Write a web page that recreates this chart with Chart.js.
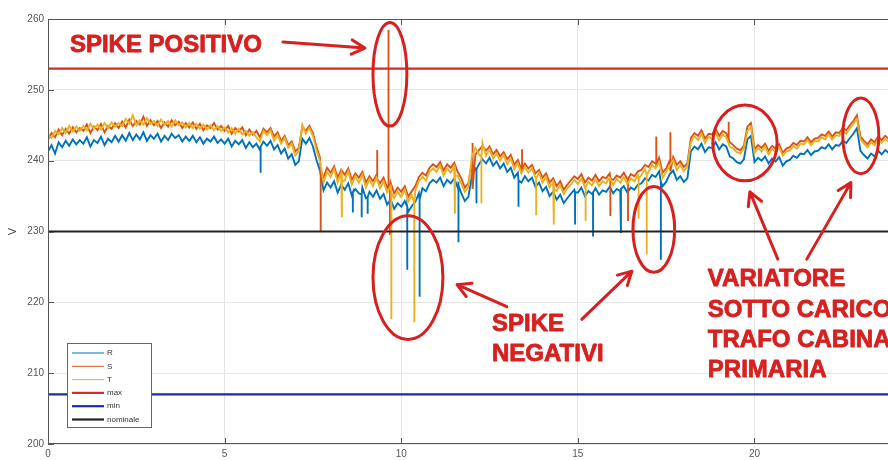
<!DOCTYPE html>
<html>
<head>
<meta charset="utf-8">
<script src="https://cdn.jsdelivr.net/npm/chart.js@4.4.0/dist/chart.umd.min.js"></script>
<style>
  html, body { margin: 0; padding: 0; background: #fff; }
  #wrap { width: 888px; height: 460px; position: relative; }
</style>
</head>
<body>
<div id="wrap"><canvas id="chart"></canvas></div>
<script>
// ore del giorno (passo 0.1 h)
const hours = [
  0.0, 0.1, 0.2, 0.3, 0.4, 0.5, 0.6, 0.7, 0.8, 0.9,
  1.0, 1.1, 1.2, 1.3, 1.4, 1.5, 1.6, 1.7, 1.8, 1.9,
  2.0, 2.1, 2.2, 2.3, 2.4, 2.5, 2.6, 2.7, 2.8, 2.9,
  3.0, 3.1, 3.2, 3.3, 3.4, 3.5, 3.6, 3.7, 3.8, 3.9,
  4.0, 4.1, 4.2, 4.3, 4.4, 4.5, 4.6, 4.7, 4.8, 4.9,
  5.0, 5.1, 5.2, 5.3, 5.4, 5.5, 5.6, 5.7, 5.8, 5.9,
  6.0, 6.1, 6.2, 6.3, 6.4, 6.5, 6.6, 6.7, 6.8, 6.9,
  7.0, 7.1, 7.2, 7.3, 7.4, 7.5, 7.6, 7.7, 7.8, 7.9,
  8.0, 8.1, 8.2, 8.3, 8.4, 8.5, 8.6, 8.7, 8.8, 8.9,
  9.0, 9.1, 9.2, 9.3, 9.4, 9.5, 9.6, 9.7, 9.8, 9.9,
  10.0, 10.1, 10.2, 10.3, 10.4, 10.5, 10.6, 10.7, 10.8, 10.9,
  11.0, 11.1, 11.2, 11.3, 11.4, 11.5, 11.6, 11.7, 11.8, 11.9,
  12.0, 12.1, 12.2, 12.3, 12.4, 12.5, 12.6, 12.7, 12.8, 12.9,
  13.0, 13.1, 13.2, 13.3, 13.4, 13.5, 13.6, 13.7, 13.8, 13.9,
  14.0, 14.1, 14.2, 14.3, 14.4, 14.5, 14.6, 14.7, 14.8, 14.9,
  15.0, 15.1, 15.2, 15.3, 15.4, 15.5, 15.6, 15.7, 15.8, 15.9,
  16.0, 16.1, 16.2, 16.3, 16.4, 16.5, 16.6, 16.7, 16.8, 16.9,
  17.0, 17.1, 17.2, 17.3, 17.4, 17.5, 17.6, 17.7, 17.8, 17.9,
  18.0, 18.1, 18.2, 18.3, 18.4, 18.5, 18.6, 18.7, 18.8, 18.9,
  19.0, 19.1, 19.2, 19.3, 19.4, 19.5, 19.6, 19.7, 19.8, 19.9,
  20.0, 20.1, 20.2, 20.3, 20.4, 20.5, 20.6, 20.7, 20.8, 20.9,
  21.0, 21.1, 21.2, 21.3, 21.4, 21.5, 21.6, 21.7, 21.8, 21.9,
  22.0, 22.1, 22.2, 22.3, 22.4, 22.5, 22.6, 22.7, 22.8, 22.9,
  23.0, 23.1, 23.2, 23.3, 23.4, 23.5, 23.6, 23.7, 23.8, 23.9
];

const voltR = [
  241.3, 242.2, 241.0, 242.6, 241.9, 242.8, 242.1, 243.0, 242.3, 242.9,
  242.4, 243.3, 242.0, 242.9, 242.5, 243.4, 242.2, 243.1, 242.6, 243.5,
  242.7, 243.6, 242.8, 243.9, 242.9, 243.7, 243.0, 244.0, 242.8, 243.6,
  243.1, 243.8, 242.7, 243.5, 242.9, 243.8, 243.2, 243.6, 242.7, 243.4,
  242.8, 243.5, 242.6, 243.3, 242.4, 243.1, 242.7, 243.4, 242.5, 243.0,
  242.4, 243.1, 242.0, 242.8, 242.3, 242.9, 241.8, 242.6, 241.9, 242.4,
  241.5, 242.7, 242.1, 242.8, 241.6, 242.2, 241.0, 241.7, 240.3, 240.9,
  239.4, 239.9, 243.1, 242.4, 243.2, 242.0, 240.1, 238.6, 235.8, 236.9,
  236.2, 237.1, 235.5, 236.6, 235.9, 236.8, 235.1, 236.0, 235.4, 236.2,
  234.7, 235.6, 234.9, 235.8, 234.6, 235.3, 233.8, 234.5, 233.2, 234.0,
  233.5, 234.3, 232.8, 233.6, 234.2, 235.4, 236.1, 235.7, 236.8, 237.3,
  236.9, 237.6, 236.4, 237.3, 236.8, 237.5, 236.2, 235.4, 234.3, 234.9,
  237.8, 238.9, 239.5, 240.2, 239.6, 240.4, 239.3, 239.9, 238.9, 239.6,
  238.4, 239.0, 237.6, 238.3, 236.9, 237.8, 237.1, 237.6, 236.3, 236.9,
  235.7, 236.3, 235.0, 235.6, 234.5, 235.2, 234.0, 234.7, 235.3, 235.9,
  235.5, 236.2, 235.0, 235.7, 235.3, 236.1, 235.2, 235.8, 235.6, 236.3,
  235.4, 236.0, 235.7, 236.4, 235.5, 236.2, 235.9, 236.6, 236.8, 237.5,
  237.2, 238.0, 237.7, 238.5, 236.4, 237.0, 238.1, 238.6, 237.3, 237.8,
  237.0, 237.5, 241.3, 242.0, 241.6, 242.4, 241.2, 241.9, 241.8, 242.6,
  241.6, 242.3, 242.0, 240.6, 240.3, 239.8, 239.6, 240.2, 243.0, 243.5,
  239.8, 240.4, 240.0, 240.6, 239.6, 240.3, 239.9, 240.5, 239.3, 239.9,
  240.1, 240.7, 240.4, 241.0, 240.9, 241.5, 240.8, 241.3, 241.4, 241.9,
  241.7, 242.3, 241.6, 242.2, 242.1, 242.8, 242.5, 243.2, 243.8, 244.6,
  241.4, 240.8, 240.3, 241.0, 240.6, 241.4, 240.9, 241.5, 241.1, 241.6
];

const voltS = [
  243.0, 243.9, 243.3, 244.4, 243.6, 244.5, 243.8, 244.7, 244.0, 244.6,
  244.2, 245.1, 243.9, 244.8, 244.3, 245.2, 244.0, 244.9, 244.5, 245.3,
  244.6, 245.5, 244.7, 245.8, 244.9, 245.6, 245.1, 246.2, 244.9, 245.7,
  245.0, 245.6, 244.6, 245.4, 244.8, 245.7, 245.0, 245.5, 244.6, 245.3,
  244.7, 245.4, 244.5, 245.2, 244.3, 245.0, 244.6, 245.3, 244.4, 244.9,
  244.2, 244.9, 243.8, 244.6, 244.1, 244.7, 243.6, 244.4, 243.7, 244.2,
  243.3, 244.5, 244.0, 244.6, 243.4, 244.0, 242.8, 243.5, 242.2, 242.7,
  241.3, 241.8, 244.8, 244.2, 244.9, 243.9, 242.0, 240.4, 237.6, 239.0,
  238.3, 239.2, 237.6, 238.7, 238.0, 238.9, 237.3, 238.2, 237.6, 238.4,
  236.9, 237.8, 237.1, 238.0, 236.8, 237.6, 236.2, 236.9, 235.4, 236.2,
  235.6, 236.4, 234.9, 235.7, 236.4, 237.7, 238.3, 237.9, 239.0, 239.5,
  239.1, 239.8, 238.6, 239.5, 239.0, 239.7, 238.4, 237.5, 236.2, 236.8,
  239.8, 240.9, 241.5, 242.1, 241.4, 242.0, 240.9, 241.5, 240.6, 241.2,
  240.2, 240.8, 239.4, 240.1, 238.8, 239.6, 238.9, 239.4, 238.2, 238.7,
  237.6, 238.2, 236.9, 237.5, 236.4, 237.1, 235.9, 236.6, 237.2, 237.8,
  237.4, 238.1, 236.9, 237.6, 237.2, 238.0, 237.1, 237.7, 237.5, 238.2,
  237.3, 237.9, 237.6, 238.3, 237.4, 238.1, 237.8, 238.5, 238.7, 239.4,
  239.1, 239.9, 239.6, 240.4, 238.3, 238.9, 240.0, 240.5, 239.4, 239.9,
  239.1, 239.6, 243.2, 243.9, 243.5, 244.3, 243.1, 243.8, 243.7, 244.5,
  243.5, 244.2, 243.9, 242.6, 242.2, 241.7, 241.5, 242.1, 244.8, 245.3,
  241.6, 242.2, 241.8, 242.4, 241.4, 242.1, 241.7, 242.3, 241.1, 241.7,
  241.9, 242.5, 242.2, 242.8, 242.7, 243.3, 242.6, 243.1, 243.2, 243.7,
  243.5, 244.1, 243.4, 244.0, 243.9, 244.6, 244.3, 245.0, 245.6, 246.4,
  243.4, 242.8, 242.3, 243.0, 242.6, 243.4, 242.9, 243.5, 243.1, 243.6
];

const voltT = [
  243.6, 243.2, 244.2, 243.7, 244.6, 243.9, 244.9, 244.1, 244.8, 244.2,
  244.9, 244.3, 245.2, 244.5, 245.1, 244.4, 245.3, 244.6, 245.4, 244.8,
  245.3, 244.9, 245.9, 245.2, 246.4, 245.0, 245.7, 245.1, 246.0, 245.2,
  245.6, 244.9, 245.8, 245.1, 245.6, 244.8, 245.7, 245.0, 245.4, 244.7,
  245.3, 244.6, 245.2, 244.5, 245.1, 244.4, 245.0, 244.3, 244.9, 244.2,
  244.7, 244.0, 244.6, 243.8, 244.5, 243.7, 244.2, 243.5, 244.0, 243.3,
  242.7, 244.2, 243.6, 244.3, 242.8, 243.6, 242.4, 243.2, 241.8, 242.4,
  240.7, 241.4, 245.1, 243.8, 244.6, 243.5, 241.5, 239.9, 236.9, 238.4,
  237.7, 238.8, 236.9, 238.3, 237.2, 238.5, 236.6, 237.8, 236.9, 238.0,
  236.2, 237.4, 236.4, 237.6, 236.1, 237.1, 235.5, 236.4, 234.7, 235.6,
  234.9, 235.9, 234.2, 235.1, 235.8, 237.1, 237.7, 237.2, 238.4, 238.9,
  238.4, 239.3, 237.9, 238.9, 238.3, 239.2, 237.8, 236.8, 235.6, 236.3,
  240.6, 241.8, 240.9, 242.5, 240.7, 241.6, 240.3, 241.0, 240.0, 240.8,
  239.5, 240.3, 238.8, 239.6, 238.2, 239.1, 238.3, 238.9, 237.6, 238.3,
  236.9, 237.7, 236.2, 237.0, 235.7, 236.5, 235.3, 236.1, 236.6, 237.3,
  236.7, 237.5, 236.2, 237.0, 236.5, 237.4, 236.4, 237.1, 236.8, 237.6,
  236.6, 237.4, 236.9, 237.7, 236.7, 237.5, 237.1, 238.0, 238.0, 238.8,
  238.4, 239.4, 238.9, 239.8, 237.6, 238.4, 239.3, 240.1, 238.7, 239.4,
  238.5, 239.2, 242.6, 243.5, 242.9, 243.8, 242.5, 243.4, 243.1, 244.0,
  242.9, 243.7, 243.3, 242.0, 241.7, 241.2, 241.0, 241.7, 244.2, 244.8,
  241.1, 241.8, 241.3, 242.0, 240.9, 241.7, 241.2, 241.9, 240.7, 241.3,
  241.4, 242.1, 241.7, 242.4, 242.3, 242.9, 242.2, 242.8, 242.7, 243.3,
  243.0, 243.7, 243.0, 243.6, 243.5, 244.2, 243.8, 244.6, 245.2, 245.9,
  243.0, 242.4, 241.9, 242.6, 242.2, 243.0, 242.5, 243.1, 242.7, 243.2
];

// spike: [ora, livello, picco]
const spikesR = [
  [6.02, 242.0, 238.3], [8.63, 235.5, 232.7], [8.88, 235.2, 232.0], [9.05, 234.9, 232.5],
  [10.17, 233.5, 224.6], [10.52, 234.5, 220.8], [11.62, 236.5, 228.5], [12.13, 238.8, 234.0],
  [13.32, 237.2, 233.5], [14.92, 235.5, 231.0], [15.43, 235.5, 229.3], [16.22, 236.0, 229.8],
  [17.35, 237.0, 226.0]
];
const spikesS = [
  [7.72, 238.5, 230.0], [9.32, 237.4, 241.5], [9.64, 236.0, 258.5], [9.68, 236.0, 229.5],
  [12.02, 236.0, 242.5], [13.42, 238.8, 241.6], [15.92, 237.5, 232.2], [16.42, 237.4, 231.5],
  [17.22, 239.5, 243.4], [17.62, 238.5, 244.0], [19.27, 243.0, 245.5]
];
const spikesT = [
  [8.32, 237.0, 232.0], [9.72, 235.5, 217.6], [10.37, 234.0, 217.2], [11.52, 238.0, 232.5],
  [12.27, 240.5, 234.0], [13.82, 237.5, 232.3], [14.32, 236.0, 231.0], [15.22, 236.3, 231.5],
  [16.72, 237.4, 231.8], [16.95, 238.0, 226.8]
];

const maxV = 253;
const minV = 207;
const nominalV = 230;

const xTicks = [0, 5, 10, 15, 20];
const yTicks = [200, 210, 220, 230, 240, 250, 260];

// annotazioni in unità dati
const notes = [
  { text: 'SPIKE POSITIVO', x: 0.62, y: 255.35 },
  { text: 'SPIKE', x: 12.57, y: 215.9 },
  { text: 'NEGATIVI', x: 12.57, y: 211.7 },
  { text: 'VARIATORE', x: 18.68, y: 222.25 },
  { text: 'SOTTO CARICO', x: 18.68, y: 217.9 },
  { text: 'TRAFO CABINA', x: 18.68, y: 213.7 },
  { text: 'PRIMARIA', x: 18.68, y: 209.4 }
];
// [centro x, centro y, raggio x, raggio y]
const rings = [
  [9.68, 252.2, 0.48, 7.32],
  [10.19, 223.5, 0.99, 8.73],
  [17.15, 230.3, 0.59, 6.06],
  [19.73, 242.5, 0.91, 5.35],
  [23.01, 243.5, 0.51, 5.35]
];
// [da x, da y, a x, a y]
const arrows = [
  [6.65, 256.76, 8.97, 255.9],
  [12.99, 219.4, 11.58, 222.5],
  [15.11, 217.6, 16.53, 224.4],
  [20.66, 226.1, 19.87, 235.6],
  [21.48, 226.1, 22.73, 236.9]
];

function buildSeries(values, spikes) {
  const pts = hours.map((h, i) => ({ x: h, y: values[i] }));
  spikes.forEach(s => {
    pts.push({ x: s[0], y: s[1] }, { x: s[0], y: s[2] }, { x: s[0], y: s[1] });
  });
  return pts.sort((a, b) => a.x - b.x);
}

function flat(v) {
  return [{ x: 0, y: v }, { x: 24, y: v }];
}

const RED = '#d7201f';

const overlay = {
  id: 'overlay',
  afterDatasetsDraw(chart) {
    const { ctx, chartArea: a, scales: { x, y } } = chart;
    ctx.save();

    // cornice e tacche interne
    ctx.strokeStyle = '#555';
    ctx.lineWidth = 1;
    ctx.strokeRect(a.left + 0.5, a.top + 0.5, a.right - a.left, a.bottom - a.top - 1);
    ctx.beginPath();
    xTicks.forEach(t => {
      const px = Math.round(x.getPixelForValue(t)) + 0.5;
      ctx.moveTo(px, a.bottom); ctx.lineTo(px, a.bottom - 6);
      ctx.moveTo(px, a.top); ctx.lineTo(px, a.top + 6);
    });
    yTicks.forEach(t => {
      const py = Math.round(y.getPixelForValue(t)) + 0.5;
      ctx.moveTo(a.left, py); ctx.lineTo(a.left + 6, py);
    });
    ctx.stroke();

    // legenda
    const lx = a.left + 19, ly = a.bottom - 101, lw = 84, lh = 84;
    ctx.fillStyle = '#fff';
    ctx.fillRect(lx, ly, lw, lh);
    ctx.strokeStyle = '#666';
    ctx.strokeRect(lx + 0.5, ly + 0.5, lw, lh);
    ctx.font = '8px "Liberation Sans", Arial, sans-serif';
    ctx.textBaseline = 'middle';
    chart.data.datasets.forEach((ds, i) => {
      const ry = ly + 10 + i * 13.3;
      ctx.strokeStyle = ds.borderColor;
      ctx.lineWidth = i < 3 ? 1 : 2.2;
      ctx.beginPath();
      ctx.moveTo(lx + 5, ry); ctx.lineTo(lx + 37, ry);
      ctx.stroke();
      ctx.fillStyle = '#333';
      ctx.fillText(ds.label, lx + 40, ry);
    });

    // annotazioni
    ctx.strokeStyle = RED;
    ctx.fillStyle = RED;
    ctx.lineWidth = 3;
    ctx.lineCap = 'round';
    ctx.lineJoin = 'round';
    rings.forEach(r => {
      const cx = x.getPixelForValue(r[0]), cy = y.getPixelForValue(r[1]);
      const rx = x.getPixelForValue(r[0] + r[2]) - cx;
      const ry = cy - y.getPixelForValue(r[1] + r[3]);
      ctx.beginPath();
      ctx.ellipse(cx, cy, rx, ry, 0, 0, Math.PI * 2);
      ctx.stroke();
    });
    arrows.forEach(ar => {
      const x0 = x.getPixelForValue(ar[0]), y0 = y.getPixelForValue(ar[1]);
      const x1 = x.getPixelForValue(ar[2]), y1 = y.getPixelForValue(ar[3]);
      const ang = Math.atan2(y1 - y0, x1 - x0);
      ctx.beginPath();
      ctx.moveTo(x0, y0); ctx.lineTo(x1, y1);
      ctx.moveTo(x1 - 15 * Math.cos(ang - 0.5), y1 - 15 * Math.sin(ang - 0.5));
      ctx.lineTo(x1, y1);
      ctx.lineTo(x1 - 15 * Math.cos(ang + 0.5), y1 - 15 * Math.sin(ang + 0.5));
      ctx.stroke();
    });
    ctx.font = 'bold 24px "Liberation Sans", Arial, sans-serif';
    ctx.textBaseline = 'alphabetic';
    ctx.lineWidth = 0.8;
    notes.forEach(n => {
      const px = x.getPixelForValue(n.x), py = y.getPixelForValue(n.y);
      ctx.fillText(n.text, px, py);
      ctx.strokeText(n.text, px, py);
    });

    ctx.restore();
  }
};

const chartCtx = document.getElementById('chart').getContext('2d');
const chart = new Chart(chartCtx, {
  type: 'line',
  data: {
    datasets: [
      { label: 'R', data: buildSeries(voltR, spikesR), borderColor: '#0072bd', borderWidth: 1.9, order: 5 },
      { label: 'S', data: buildSeries(voltS, spikesS), borderColor: '#d95319', borderWidth: 1.9, order: 4 },
      { label: 'T', data: buildSeries(voltT, spikesT), borderColor: '#edb120', borderWidth: 1.9, order: 3 },
      { label: 'max', data: flat(maxV), borderColor: '#d42a2a', borderWidth: 2.2, order: 2 },
      { label: 'min', data: flat(minV), borderColor: '#1c2aa0', borderWidth: 2.2, order: 1 },
      { label: 'nominale', data: flat(nominalV), borderColor: '#222', borderWidth: 2.2, order: 0 }
    ]
  },
  options: {
    responsive: true,
    maintainAspectRatio: false,
    animation: false,
    layout: { padding: { top: 19, right: 0, left: 0, bottom: 0 } },
    elements: { point: { radius: 0 }, line: { tension: 0, fill: false } },
    plugins: { legend: { display: false }, tooltip: { enabled: false } },
    scales: {
      x: {
        type: 'linear',
        min: 0,
        max: 23.78,
        afterBuildTicks: s => { s.ticks = xTicks.map(v => ({ value: v })); },
        afterFit: s => { s.height = 16; },
        grid: { color: '#e6e6e6', drawTicks: false },
        border: { display: false },
        ticks: { color: '#555', padding: 4, font: { size: 10, family: 'Liberation Sans' } }
      },
      y: {
        min: 200,
        max: 260,
        afterBuildTicks: s => { s.ticks = yTicks.map(v => ({ value: v })); },
        afterFit: s => { s.width = 48; },
        grid: { color: '#e6e6e6', drawTicks: false },
        border: { display: false },
        title: { display: true, text: 'V', color: '#444', padding: { top: 6, bottom: 0 }, font: { size: 11, family: 'Liberation Sans' } },
        ticks: { color: '#555', padding: 4, font: { size: 10, family: 'Liberation Sans' } }
      }
    }
  },
  plugins: [overlay]
});
</script>
</body>
</html>
